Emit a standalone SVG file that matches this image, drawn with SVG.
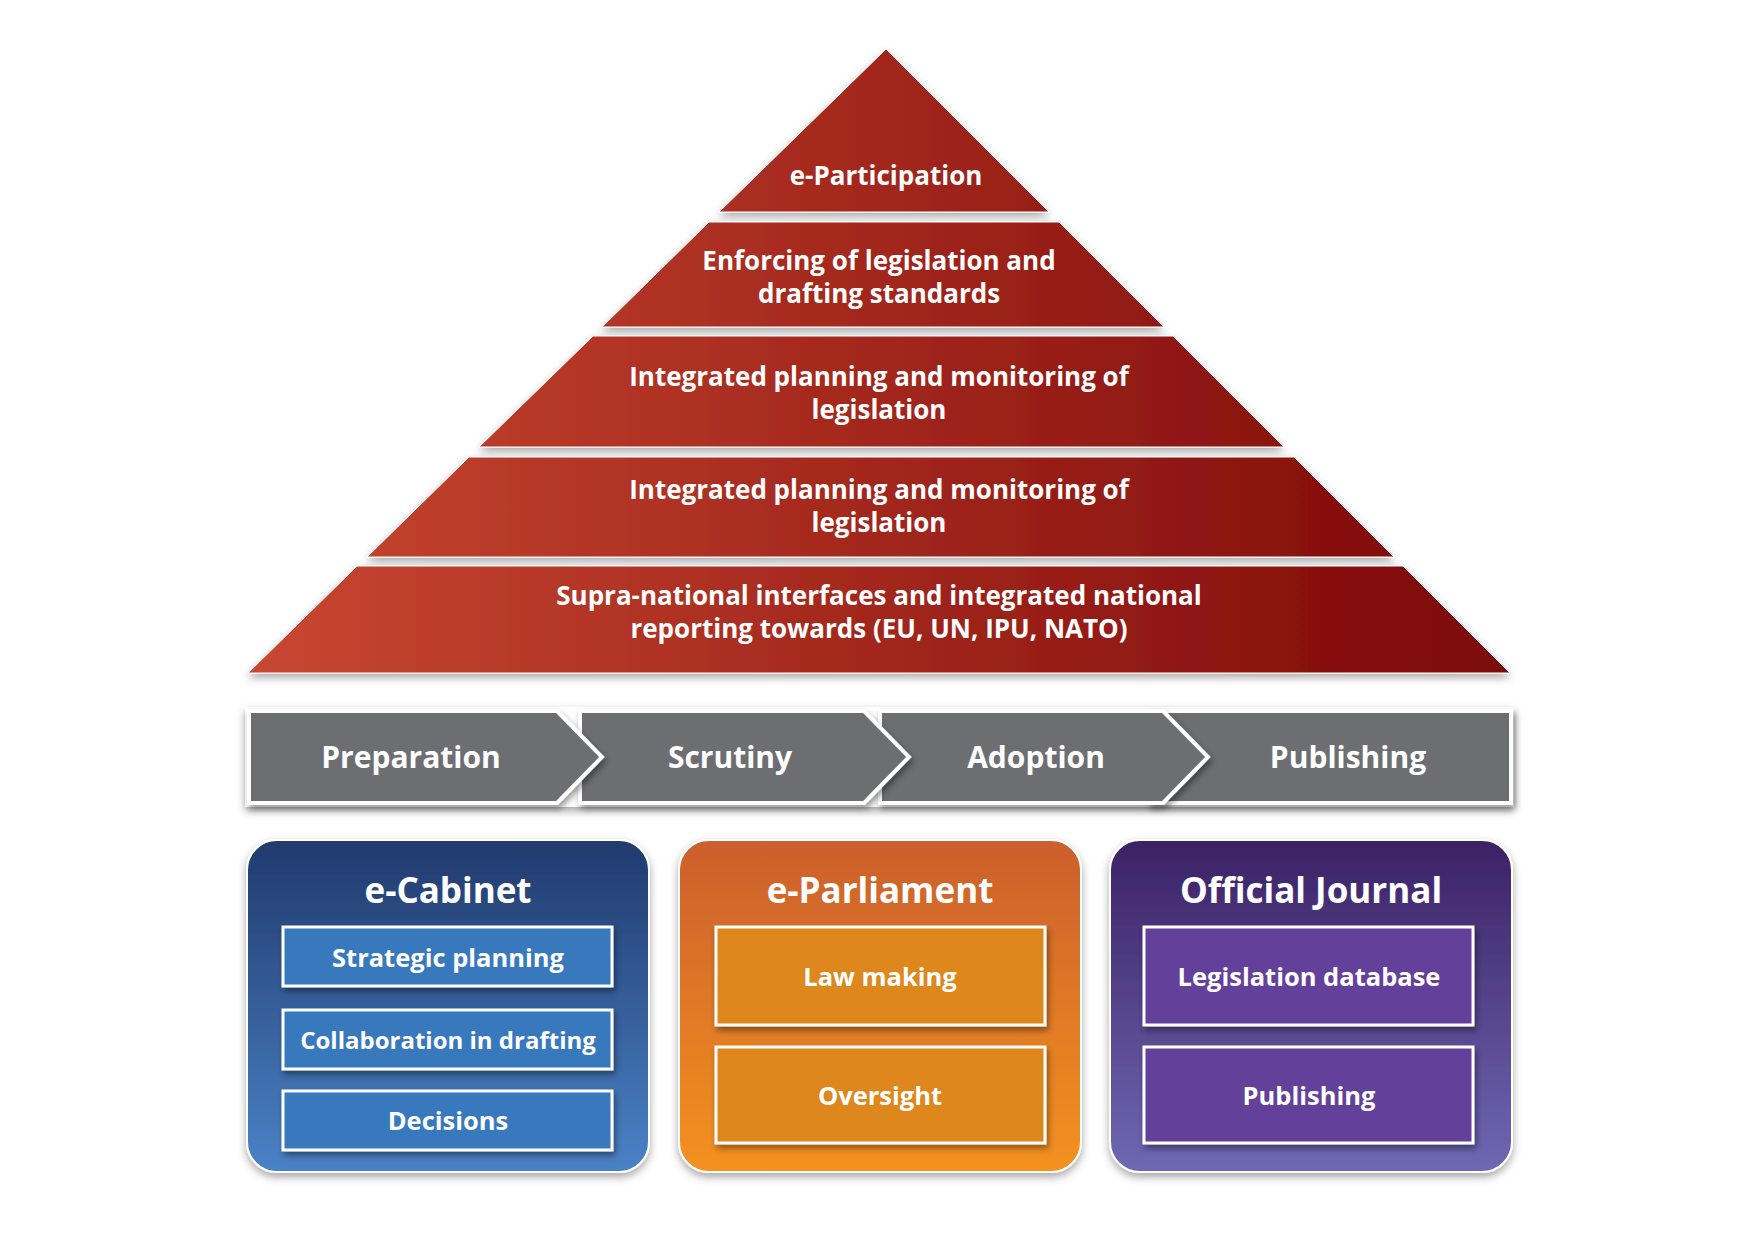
<svg xmlns="http://www.w3.org/2000/svg" width="1754" height="1240" viewBox="0 0 1754 1240">
<defs>
<linearGradient id="gPyr" gradientUnits="userSpaceOnUse" x1="248" y1="0" x2="1510" y2="0">
<stop offset="0" stop-color="#c84731"/>
<stop offset="1" stop-color="#7c0708"/>
</linearGradient>
<linearGradient id="gBlue" x1="0" y1="0" x2="0" y2="1">
<stop offset="0" stop-color="#213a6d"/>
<stop offset="1" stop-color="#4a82c6"/>
</linearGradient>
<linearGradient id="gOrange" x1="0" y1="0" x2="0" y2="1">
<stop offset="0" stop-color="#cb5f2d"/>
<stop offset="1" stop-color="#f4921f"/>
</linearGradient>
<linearGradient id="gPurple" x1="0" y1="0" x2="0" y2="1">
<stop offset="0" stop-color="#3c2165"/>
<stop offset="1" stop-color="#6e68b2"/>
</linearGradient>
<filter id="sh" x="-10%" y="-10%" width="120%" height="130%">
<feDropShadow dx="0" dy="4" stdDeviation="4" flood-color="#000" flood-opacity="0.35"/>
</filter>
<filter id="shs" x="-20%" y="-20%" width="140%" height="140%">
<feDropShadow dx="2" dy="4" stdDeviation="3" flood-color="#000" flood-opacity="0.4"/>
</filter>
</defs>
<style>
.pyr{fill:url(#gPyr);stroke:#ffffff;stroke-width:1;filter:url(#sh)}
.t{font-family:"Open Sans","Noto Sans","DejaVu Sans",sans-serif;font-weight:700;fill:#ffffff;text-anchor:middle}
.pt{font-size:26px}
.ct{font-size:30px}
.ht{font-size:35px}
.bt{font-size:25.5px}
.bts{font-size:24px}
.seg{fill:#6d6e72;stroke:#ffffff;stroke-width:4;filter:url(#shs)}
.panel{stroke:#ffffff;stroke-width:2;filter:url(#sh)}
.inner{stroke:#ffffff;stroke-width:3;filter:url(#shs)}
</style>
<rect width="1754" height="1240" fill="#ffffff"/>
<g id="pyramid">
<g id="layer1"><polygon class="pyr" points="886,49 1049,212 719,212"/><text class="t pt" x="886" y="185">e-Participation</text></g>
<g id="layer2"><polygon class="pyr" points="709,222 1059,222 1164,327 602,327"/><text class="t pt" x="879" y="270">Enforcing of legislation and</text><text class="t pt" x="879" y="303">drafting standards</text></g>
<g id="layer3"><polygon class="pyr" points="593,336 1173,336 1284,447 479,447"/><text class="t pt" x="879" y="386">Integrated planning and monitoring of</text><text class="t pt" x="879" y="419">legislation</text></g>
<g id="layer4"><polygon class="pyr" points="469,457 1294,457 1394,557 367,557"/><text class="t pt" x="879" y="499">Integrated planning and monitoring of</text><text class="t pt" x="879" y="532">legislation</text></g>
<g id="layer5"><polygon class="pyr" points="357,566 1403,566 1510,673 248,673"/><text class="t pt" x="879" y="605">Supra-national interfaces and integrated national</text><text class="t pt" x="879" y="638">reporting towards (EU, UN, IPU, NATO)</text></g>
</g>
<g id="process">
<rect x="245" y="707" width="1269" height="100" fill="#ffffff" filter="url(#sh)"/>
<g id="publishing-step"><polygon class="seg" points="1150,711 1511,711 1511,803 1150,803"/><text class="t ct" x="1348" y="768">Publishing</text></g>
<g id="adoption-step"><polygon class="seg" points="880,711 1163,711 1208,757 1163,803 880,803"/><text class="t ct" x="1036" y="768">Adoption</text></g>
<g id="scrutiny-step"><polygon class="seg" points="580,711 864,711 909,757 864,803 580,803"/><text class="t ct" x="730" y="768">Scrutiny</text></g>
<g id="preparation-step"><polygon class="seg" points="249,711 557,711 602,757 557,803 249,803"/><text class="t ct" x="411" y="768">Preparation</text></g>
</g>
<g id="e-cabinet">
<rect class="panel" x="247" y="840" width="402" height="332" rx="30" fill="url(#gBlue)"/>
<text class="t ht" x="448" y="903">e-Cabinet</text>
<rect class="inner" x="283" y="927" width="329" height="59" fill="#3978bd"/>
<text class="t bt" x="448" y="967">Strategic planning</text>
<rect class="inner" x="283" y="1010" width="329" height="59" fill="#3978bd"/>
<text class="t bts" x="448" y="1049">Collaboration in drafting</text>
<rect class="inner" x="283" y="1091" width="329" height="59" fill="#3978bd"/>
<text class="t bt" x="448" y="1130">Decisions</text>
</g>
<g id="e-parliament">
<rect class="panel" x="679" y="840" width="402" height="332" rx="30" fill="url(#gOrange)"/>
<text class="t ht" x="880" y="903">e-Parliament</text>
<rect class="inner" x="716" y="927" width="329" height="98" fill="#dd871d"/>
<text class="t bt" x="880" y="986">Law making</text>
<rect class="inner" x="716" y="1047" width="329" height="96" fill="#dd871d"/>
<text class="t bt" x="880" y="1105">Oversight</text>
</g>
<g id="official-journal">
<rect class="panel" x="1110" y="840" width="402" height="332" rx="30" fill="url(#gPurple)"/>
<text class="t ht" x="1311" y="903">Official Journal</text>
<rect class="inner" x="1144" y="927" width="329" height="98" fill="#633f99"/>
<text class="t bt" x="1309" y="986">Legislation database</text>
<rect class="inner" x="1144" y="1047" width="329" height="96" fill="#633f99"/>
<text class="t bt" x="1309" y="1105">Publishing</text>
</g>
<g id="connectors"></g>
</svg>
